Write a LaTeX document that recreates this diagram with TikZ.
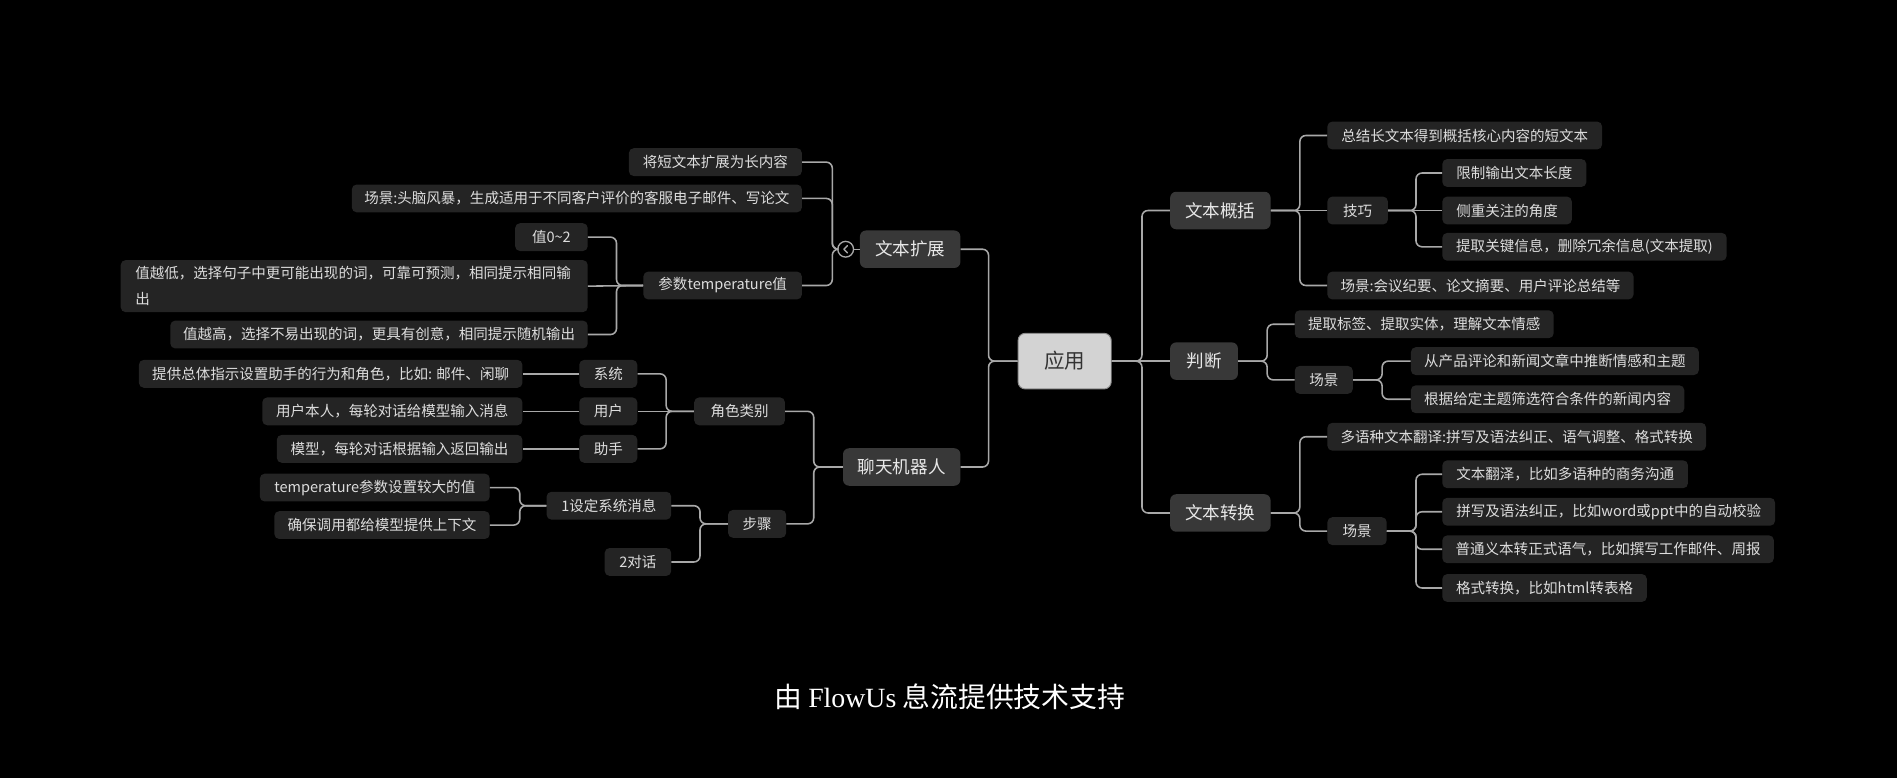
\documentclass[tikz,border=0pt]{standalone}
\usepackage{fontspec}
\usetikzlibrary{calc}
\setmainfont{Noto Sans CJK SC}
\newfontfamily\serifus{Liberation Serif}
\definecolor{leaffill}{HTML}{242424}
\definecolor{topicfill}{HTML}{383838}
\definecolor{rootfill}{HTML}{D3D3D3}
\definecolor{rootdraw}{HTML}{8C8C8C}
\definecolor{linecol}{HTML}{A8A8A8}
\definecolor{leaftext}{HTML}{DDDDDD}
\definecolor{topictext}{HTML}{E8E8E8}
\definecolor{roottext}{HTML}{333333}
\tikzset{
  leaf/.style={fill=leaffill, text=leaftext, rounded corners=4pt, minimum height=23pt, inner xsep=0pt, inner ysep=0pt, font=\fontsize{12pt}{15pt}\selectfont},
  topic/.style={fill=topicfill, text=topictext, rounded corners=5pt, minimum height=31pt, inner xsep=0pt, inner ysep=0pt, font=\fontsize{14.5pt}{17pt}\selectfont},
  rootbox/.style={fill=rootfill, draw=rootdraw, line width=0.8pt, text=roottext, rounded corners=6pt, minimum width=77pt, minimum height=46pt, font=\fontsize{17pt}{20pt}\selectfont},
  conn/.style={draw=linecol, line width=1.3pt, rounded corners=5pt},
}
\newcommand{\mmR}[6][leaf]{\node[#1, anchor=west, minimum width={(#4-#3)*1pt}] (#2) at (#3,#5) {#6};}
\newcommand{\mmL}[6][leaf]{\node[#1, anchor=east, minimum width={(#4-#3)*1pt}] (#2) at (#4,#5) {#6};}
\newcommand{\cR}[3]{\draw[conn] (#1.east) -- ++(#3,0) |- (#2.west);}
\newcommand{\cL}[3]{\draw[conn] (#1.west) -- ++(-#3,0) |- (#2.east);}
\newcommand{\sR}[2]{\draw[conn] (#1.east) -- (#2.west);}
\newcommand{\sL}[2]{\draw[conn] (#1.west) -- (#2.east);}
\begin{document}
\begin{tikzpicture}[x=1pt,y=-1pt]
\fill[black] (0,0) rectangle (1568,643);
\useasboundingbox (0,0) rectangle (1568,643);

% root
\node[rootbox] (r0) at (880,298.5) {应用};

% right topics
\mmR[topic]{t1}{967}{1050}{174}{文本概括}
\mmR[topic]{t2}{967}{1023}{298.5}{判断}
\mmR[topic]{t3}{967}{1050}{424}{文本转换}

\mmR{a1}{1097}{1324}{112}{总结长文本得到概括核心内容的短文本}
\mmR{a2}{1097}{1147}{174}{技巧}
\mmR{a3}{1097}{1350}{236}{场景:会议纪要、论文摘要、用户评论总结等}
\mmR{b1}{1192}{1311}{143}{限制输出文本长度}
\mmR{b2}{1192}{1299}{174}{侧重关注的角度}
\mmR{b3}{1192}{1427}{204}{提取关键信息，删除冗余信息(文本提取)}

\mmR{c1}{1070}{1284}{268}{提取标签、提取实体，理解文本情感}
\mmR{c2}{1070}{1118}{314}{场景}
\mmR{d1}{1166}{1404}{298.5}{从产品评论和新闻文章中推断情感和主题}
\mmR{d2}{1166}{1392}{330}{根据给定主题筛选符合条件的新闻内容}

\mmR{e1}{1097}{1410}{361}{多语种文本翻译:拼写及语法纠正、语气调整、格式转换}
\mmR{e2}{1097}{1146}{439}{场景}
\mmR{f1}{1192}{1395}{392}{文本翻泽，比如多语种的商务沟通}
\mmR{f2}{1192}{1467}{423}{拼写及语法纠正，比如word或ppt中的自动校验}
\mmR{f3}{1192}{1466}{454}{普通义本转正式语气，比如撰写工作邮件、周报}
\mmR{f4}{1192}{1361}{486}{格式转换，比如html转表格}

% left topics
\mmL[topic]{l1}{711}{794}{206}{文本扩展}
\mmL[topic]{l2}{697}{794}{386}{聊天机器人}

\mmL{g1}{520}{663}{134}{将短文本扩展为长内容}
\mmL{g2}{291}{663}{164}{场景:头脑风暴，生成适用于不同客户评价的客服电子邮件、写论文}
\mmL{g3}{532}{663}{236}{参数temperature值}
\mmL{h1}{426}{486}{196}{值0\textasciitilde2}
\node[leaf, anchor=east, text width=362pt, inner xsep=12pt, minimum height=43pt, align=left, font=\fontsize{12pt}{21pt}\selectfont] (h2) at (486,236.5) {值越低，选择句子中更可能出现的词，可靠可预测，相同提示相同输\\出};
\mmL{h3}{141}{486}{276.5}{值越高，选择不易出现的词，更具有创意，相同提示随机输出}

\mmL{i1}{574}{649}{340}{角色类别}
\mmL{i2}{602}{650}{433}{步骤}
\mmL{j1}{479}{527}{309}{系统}
\mmL{j2}{479}{527}{340}{用户}
\mmL{j3}{479}{527}{371}{助手}
\mmL{k1}{115}{432}{309}{提供总体指示设置助手的行为和角色，比如: 邮件、闲聊}
\mmL{k2}{217}{432}{340}{用户本人，每轮对话给模型输入消息}
\mmL{k3}{229}{432}{371}{模型，每轮对话根据输入返回输出}
\mmL{m1}{452}{555}{418}{1设定系统消息}
\mmL{m2}{500}{555}{464.5}{2对话}
\mmL{n1}{215}{405}{403}{temperature参数设置较大的值}
\mmL{n2}{227}{405}{434}{确保调用都给模型提供上下文}

% connectors right
\cR{r0}{t1}{25} \sR{r0}{t2} \cR{r0}{t3}{25}
\cR{t1}{a1}{24} \sR{t1}{a2} \cR{t1}{a3}{24}
\cR{a2}{b1}{23} \sR{a2}{b2} \cR{a2}{b3}{23}
\cR{t2}{c1}{24} \cR{t2}{c2}{24}
\cR{c2}{d1}{24} \cR{c2}{d2}{24}
\cR{t3}{e1}{24} \cR{t3}{e2}{24}
\cR{e2}{f1}{24} \cR{e2}{f2}{24} \cR{e2}{f3}{24} \cR{e2}{f4}{24}

% connectors left
\cL{r0}{l1}{24} \cL{r0}{l2}{24}
\node[circle, draw=linecol, line width=1.1pt, fill=black, minimum size=13pt, inner sep=0pt] (cc) at (699,206) {};
\draw[draw=linecol, line width=1.1pt] (l1.west) -- (cc.east);
\draw[draw=linecol, line width=1.1pt, line cap=round, line join=round] ($(cc)+(1.5,-3)$) -- ($(cc)+(-1.5,0)$) -- ($(cc)+(1.5,3)$);
\cL{cc}{g1}{4} \cL{cc}{g2}{4} \cL{cc}{g3}{4}
\cL{g3}{h1}{22} \sL{g3}{h2} \cL{g3}{h3}{22}
\cL{l2}{i1}{24} \cL{l2}{i2}{24}
\cL{i1}{j1}{23} \sL{i1}{j2} \cL{i1}{j3}{23}
\sL{j1}{k1} \sL{j2}{k2} \sL{j3}{k3}
\cL{i2}{m1}{23} \cL{i2}{m2}{23}
\cL{m1}{n1}{22} \cL{m1}{n2}{22}

% footer
\node[text=white, font=\fontsize{23pt}{26pt}\selectfont] (foot) at (785,576) {由 {\serifus FlowUs} 息流提供技术支持};
\end{tikzpicture}
\end{document}
